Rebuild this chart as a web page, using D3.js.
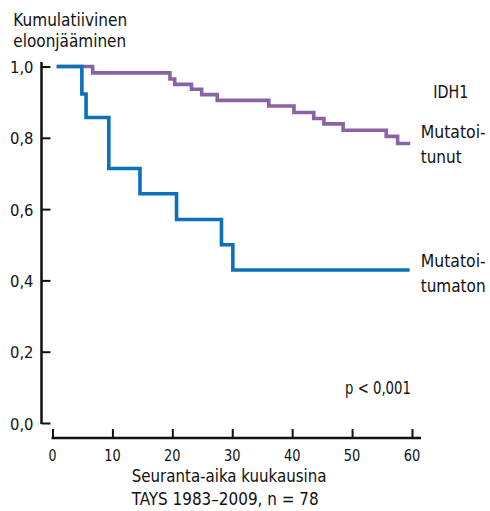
<!DOCTYPE html>
<html>
<head>
<meta charset="utf-8">
<script src="https://cdn.jsdelivr.net/npm/d3@7"></script>
<style>
  body { margin: 0; background: #fff; }
  text { font-family: "DejaVu Sans Condensed", "DejaVu Sans", sans-serif; fill: #111; font-size: 18.5px; }
  text.tick { font-size: 16.5px; }
</style>
</head>
<body>
<div id="chart"></div>
<script>
// Kaplan-Meier steps: [month, survival]
var mutatoitunut = [
  [0.7, 1.0], [6.7, 0.982], [19.6, 0.965], [20.4, 0.95], [23.2, 0.936],
  [24.9, 0.921], [27.5, 0.905], [36.1, 0.889], [40.3, 0.871], [43.6, 0.854],
  [45.3, 0.839], [48.5, 0.821], [55.7, 0.804], [57.6, 0.784], [59.7, 0.784]
]
var mutatoitumaton = [
  [0.7, 1.0], [4.9, 0.923], [5.6, 0.857], [9.4, 0.714], [14.6, 0.643],
  [20.7, 0.571], [28.2, 0.5], [30.1, 0.429], [59.6, 0.429]
]
var xTicks = [0, 10, 20, 30, 40, 50, 60]
var yTicks = [0, 0.2, 0.4, 0.6, 0.8, 1.0]

var width = 490, height = 511

var svg = d3.select('#chart')
  .append('svg')
  .attr('width', width)
  .attr('height', height)

// scales
var x = d3.scaleLinear().domain([0, 60]).range([52.5, 412])
var y = d3.scaleLinear().domain([0, 1]).range([423, 66.5])

// The original uses a narrow font, so every label is squeezed
// horizontally to the width
function narrowText(tx, ty, str, len, anchor, cls) {
  var g = svg.append('g').attr('transform', 'translate(' + tx + ',' + ty + ')')
  var t = g.append('text').attr('class', cls || null).attr('x', 0).attr('y', 0).text(str)
  var natural = t.node().getComputedTextLength()
  var sx = len / natural
  var shift = 0
  if (anchor === 'end') shift = -len
  if (anchor === 'middle') shift = -len / 2
  g.attr('transform', 'translate(' + (tx + shift) + ',' + ty + ') scale(' + sx + ',1)')
  return t
}

// y axis: ticks pointing inward, own vertical line
var yAxis = svg.append('g')
  .attr('transform', 'translate(41.5,0)')
  .call(d3.axisRight(y).tickValues(yTicks).tickSize(9).tickFormat(''))
yAxis.select('.domain').remove()
yAxis.selectAll('line').attr('stroke', '#111').attr('stroke-width', 2)
yAxis.append('line')
  .attr('x1', 0).attr('x2', 0)
  .attr('y1', 62).attr('y2', y(0) + 1)
  .attr('stroke', '#111').attr('stroke-width', 2.5)

yTicks.forEach(function (d) {
  narrowText(33.5, y(d) + 6.5, d3.format('.1f')(d).replace('.', ','), 23.5, 'end', 'tick')
})

// x axis: ticks pointing up
var xAxis = svg.append('g')
  .attr('transform', 'translate(0,438)')
  .call(d3.axisTop(x).tickValues(xTicks).tickSize(9).tickFormat(''))
xAxis.select('.domain').remove()
xAxis.selectAll('line').attr('stroke', '#111').attr('stroke-width', 2)
xAxis.append('line')
  .attr('x1', x(0) - 1).attr('x2', 421)
  .attr('y1', 0).attr('y2', 0)
  .attr('stroke', '#111').attr('stroke-width', 2.5)

xTicks.forEach(function (d) {
  narrowText(x(d), 460.5, String(d), d < 10 ? 8 : 16.5, 'middle', 'tick')
})

// survival curves
var line = d3.line()
  .x(function (d) { return x(d[0]) })
  .y(function (d) { return y(d[1]) })
  .curve(d3.curveStepAfter)

svg.append('path')
  .datum(mutatoitunut)
  .attr('d', line)
  .attr('fill', 'none')
  .attr('stroke', '#8a63a7')
  .attr('stroke-width', 3.6)

svg.append('path')
  .datum(mutatoitumaton)
  .attr('d', line)
  .attr('fill', 'none')
  .attr('stroke', '#0b72b9')
  .attr('stroke-width', 3.6)

// labels
narrowText(13.3, 25.7, 'Kumulatiivinen', 114)
narrowText(13.3, 46.7, 'eloonjääminen', 113)
narrowText(433.3, 98.3, 'IDH1', 35)
narrowText(420.7, 138.3, 'Mutatoi-', 65)
narrowText(420.7, 163.3, 'tunut', 41)
narrowText(420.7, 266.5, 'Mutatoi-', 65)
narrowText(420.7, 291.5, 'tumaton', 65)
narrowText(345, 394, 'p < 0,001', 66)
narrowText(131.7, 481.5, 'Seuranta-aika kuukausina', 195)
narrowText(131.7, 505, 'TAYS 1983\u20132009, n = 78', 187)
</script>
</body>
</html>
